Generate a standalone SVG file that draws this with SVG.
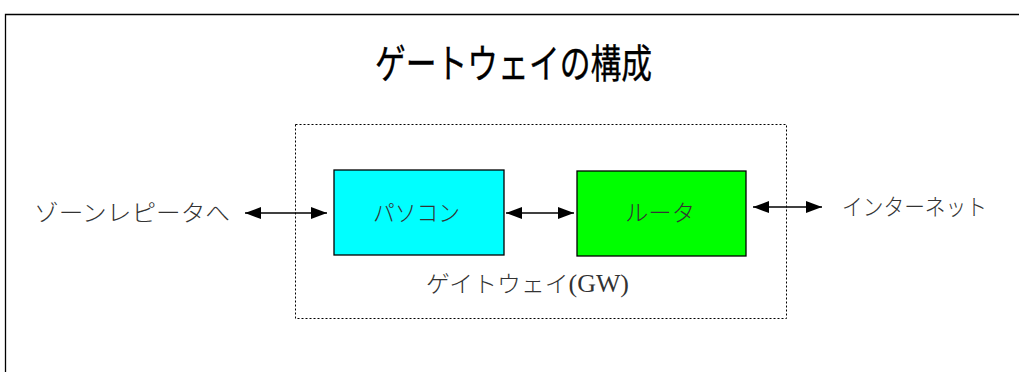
<svg xmlns="http://www.w3.org/2000/svg" width="1019" height="372" viewBox="0 0 1019 372">
<style>
text{font-family:"Noto Sans CJK JP","Liberation Sans",sans-serif;fill:#333;font-weight:300;font-size:23px}
.serif{font-family:"Liberation Serif","Noto Sans CJK JP",serif}
.box{stroke:#000;stroke-width:1.3}
.conn{stroke:#000;stroke-width:1.3;fill:none;marker-start:url(#ah);marker-end:url(#ah)}
</style>
<defs>
<marker id="ah" viewBox="0 0 16 12" refX="16" refY="6" markerWidth="16" markerHeight="12" markerUnits="userSpaceOnUse" orient="auto-start-reverse">
<path d="M0,0 L16,6 L0,12 Z" fill="#000"/>
</marker>
</defs>
<rect width="1019" height="372" fill="#fff"/>
<path d="M5.5,372 V14.5 H1019" fill="none" stroke="#000" stroke-width="1.3"/>
<g id="title"><text x="375" y="78" textLength="277" lengthAdjust="spacingAndGlyphs" style="font-size:40px;font-weight:400;fill:#000;stroke:#000;stroke-width:0.35">ゲートウェイの構成</text></g>
<g id="gateway">
<rect x="295.5" y="124.5" width="491" height="194" fill="none" stroke="#000" stroke-dasharray="2,2"/>
<text x="426" y="292" textLength="203" lengthAdjust="spacingAndGlyphs">ゲイトウェイ<tspan class="serif" font-size="25">(GW)</tspan></text>
</g>
<g id="pc"><rect class="box" x="334" y="170" width="170" height="85" fill="#00ffff"/><text x="373" y="221" textLength="87" lengthAdjust="spacingAndGlyphs">パソコン</text></g>
<g id="router"><rect class="box" x="577" y="171" width="169" height="85" fill="#00ff00"/><text x="625" y="221" textLength="70" lengthAdjust="spacingAndGlyphs">ルータ</text></g>
<g id="zone"><text x="34" y="221" textLength="196" lengthAdjust="spacingAndGlyphs">ゾーンレピータへ</text></g>
<g id="internet"><text x="842" y="215" textLength="145" lengthAdjust="spacingAndGlyphs">インターネット</text></g>
<g id="connectors">
<line class="conn" x1="245" y1="213" x2="327" y2="213"/>
<line class="conn" x1="506" y1="213" x2="574" y2="213"/>
<line class="conn" x1="753" y1="207" x2="822" y2="207"/>
</g>
</svg>
